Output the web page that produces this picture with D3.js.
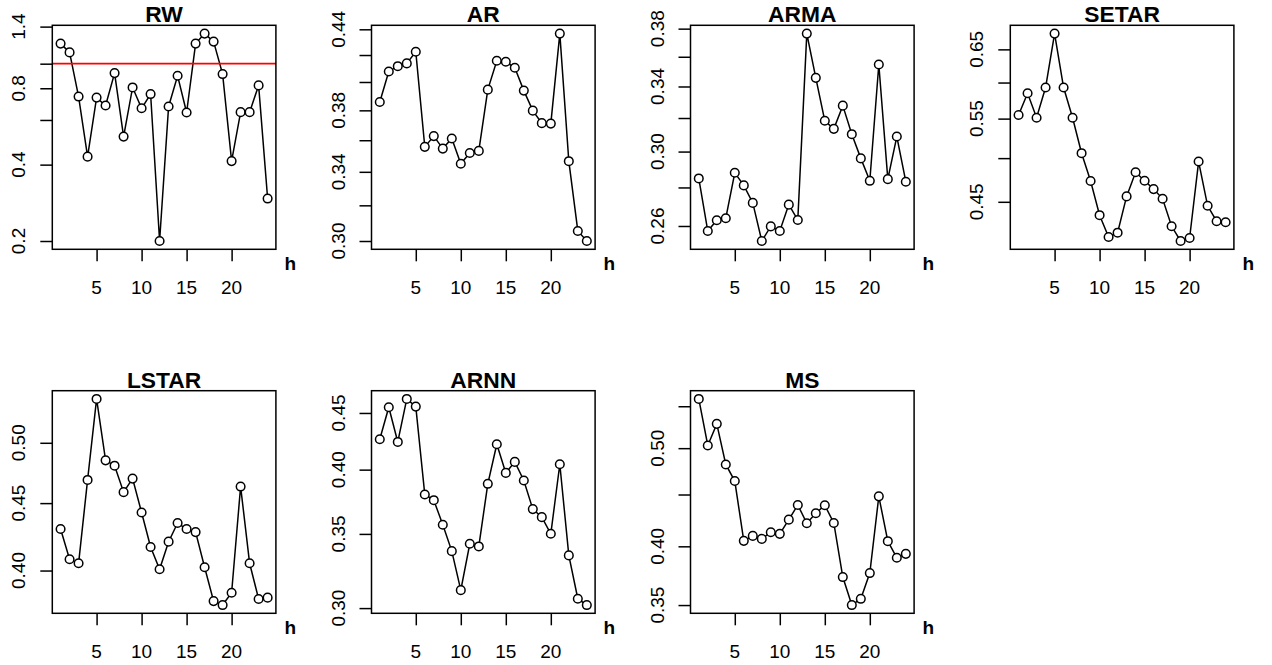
<!DOCTYPE html>
<html>
<head>
<meta charset="utf-8">
<script src="https://cdnjs.cloudflare.com/ajax/libs/d3/7.8.5/d3.min.js"></script>
<style>
  body { margin: 0; background: #ffffff; }
  text { font-family: "Liberation Sans", Arial, sans-serif; fill: #000000; }
</style>
</head>
<body>
<div id="chart"></div>
<script>
// horizons 1..24
var horizons = d3.range(1, 25)
var xTicks = [5, 10, 15, 20]

var models = ['RW', 'AR', 'ARMA', 'SETAR', 'LSTAR', 'ARNN', 'MS']

var rw = [1.20, 1.108, 0.742, 0.430, 0.735, 0.684, 0.918, 0.516, 0.806, 0.667, 0.759, 0.200,
  0.678, 0.896, 0.642, 1.20, 1.314, 1.222, 0.910, 0.413, 0.644, 0.644, 0.821, 0.294]
var ar = [0.3858, 0.4077, 0.4116, 0.4137, 0.4225, 0.3557, 0.3627, 0.3546, 0.3611, 0.3450, 0.3518, 0.3531,
  0.3945, 0.4157, 0.4149, 0.4104, 0.3938, 0.3798, 0.3713, 0.3710, 0.4366, 0.3466, 0.3055, 0.3000]
var arma = [0.2849, 0.2575, 0.2629, 0.2639, 0.2880, 0.2811, 0.2718, 0.2526, 0.2598, 0.2575, 0.2709, 0.2630,
  0.3764, 0.3457, 0.3183, 0.3134, 0.3277, 0.3102, 0.2961, 0.2836, 0.3547, 0.2845, 0.3088, 0.2831]
var setar = [0.5548, 0.5847, 0.5512, 0.5928, 0.6752, 0.5928, 0.5512, 0.5060, 0.4731, 0.4357, 0.4134, 0.4177,
  0.4559, 0.4832, 0.4735, 0.4640, 0.4533, 0.4242, 0.4094, 0.4124, 0.4959, 0.4457, 0.4294, 0.4283]
var lstar = [0.4301, 0.4080, 0.4051, 0.4686, 0.5398, 0.4849, 0.4804, 0.4587, 0.4697, 0.4427, 0.4168, 0.4009,
  0.4207, 0.4346, 0.4301, 0.4278, 0.4023, 0.3792, 0.3766, 0.3848, 0.4632, 0.4051, 0.3806, 0.3815]
var arnn = [0.4261, 0.4554, 0.4237, 0.4633, 0.4560, 0.3799, 0.3754, 0.3567, 0.3377, 0.3114, 0.3429, 0.3410,
  0.3884, 0.4217, 0.3973, 0.4065, 0.3911, 0.3685, 0.3624, 0.3501, 0.4045, 0.3347, 0.3059, 0.3019]
var ms = [0.5592, 0.5031, 0.5284, 0.4818, 0.4640, 0.4050, 0.4096, 0.4068, 0.4130, 0.4115, 0.4250, 0.4394,
  0.4215, 0.4312, 0.4391, 0.4218, 0.3730, 0.3500, 0.3550, 0.3764, 0.4481, 0.4047, 0.3897, 0.3932]

var series = [rw, ar, arma, setar, lstar, arnn, ms]

// y ticks per panel, and the ones that get a label
var yTicks = [
  [0.2, 0.4, 0.6, 0.8, 1.0, 1.4],
  [0.30, 0.32, 0.34, 0.36, 0.38, 0.40, 0.42, 0.44],
  [0.26, 0.28, 0.30, 0.32, 0.34, 0.36, 0.38],
  [0.45, 0.50, 0.55, 0.60, 0.65],
  [0.40, 0.45, 0.50],
  [0.30, 0.35, 0.40, 0.45],
  [0.35, 0.40, 0.45, 0.50, 0.55]
]
var yLabels = [
  ['0.2', '0.4', '0.8', '1.4'],
  ['0.30', '0.34', '0.38', '0.44'],
  ['0.26', '0.30', '0.34', '0.38'],
  ['0.45', '0.55', '0.65'],
  ['0.40', '0.45', '0.50'],
  ['0.30', '0.35', '0.40', '0.45'],
  ['0.35', '0.40', '0.50']
]

var refLine = 1 // red reference line, RW panel only

var W = 1272, H = 665
var colLeft = [52.3, 371.5, 690.5, 1010.3]
var plotW = 223.6
var rowTop = [25.3, 390.7]
var rowH = [224, 222.6]

var svg = d3.select('#chart').append('svg')
  .attr('width', W)
  .attr('height', H)

function extendLog(vals) {
  // like R: 4% padding of the range, here in log space
  var lo = Math.log(d3.min(vals)), hi = Math.log(d3.max(vals))
  var pad = (hi - lo) * 0.04
  return [Math.exp(lo - pad), Math.exp(hi + pad)]
}

models.forEach(function (name, i) {
  var vals = series[i]
  var left = colLeft[i % 4]
  var top = rowTop[Math.floor(i / 4)]
  var h = rowH[Math.floor(i / 4)]

  var x = d3.scaleLinear()
    .domain([1 - 23 * 0.04, 24 + 23 * 0.04])
    .range([left, left + plotW])
  var y = d3.scaleLog()
    .domain(extendLog(vals))
    .range([top + h, top])

  var g = svg.append('g')

  // x axis
  var xa = g.append('g')
    .attr('transform', 'translate(0,' + (top + h) + ')')
    .call(d3.axisBottom(x).tickValues(xTicks).tickSize(12).tickFormat(''))
  xa.select('.domain').remove()
  xa.selectAll('line').attr('stroke', '#000').attr('stroke-width', 1.5)
  g.selectAll('.xlab')
    .data(xTicks)
    .enter().append('text')
    .attr('x', function (d) { return x(d) })
    .attr('y', top + h + 44.5)
    .attr('text-anchor', 'middle')
    .attr('font-size', 19)
    .text(function (d) { return d })

  // y axis
  var ya = g.append('g')
    .attr('transform', 'translate(' + left + ',0)')
    .call(d3.axisLeft(y).tickValues(yTicks[i]).tickSize(12).tickFormat(''))
  ya.select('.domain').remove()
  ya.selectAll('line').attr('stroke', '#000').attr('stroke-width', 1.5)
  g.selectAll('.ylab')
    .data(yLabels[i])
    .enter().append('text')
    .attr('transform', function (d) {
      return 'translate(' + (left - 27) + ',' + y(+d) + ') rotate(-90)'
    })
    .attr('text-anchor', 'middle')
    .attr('font-size', 19)
    .text(function (d) { return d })

  // series: line with open circles (type "b")
  var line = d3.line()
    .x(function (d, j) { return x(horizons[j]) })
    .y(function (d) { return y(d) })
  g.append('path')
    .datum(vals)
    .attr('d', line)
    .attr('fill', 'none')
    .attr('stroke', '#000')
    .attr('stroke-width', 1.5)
  g.selectAll('circle')
    .data(vals)
    .enter().append('circle')
    .attr('cx', function (d, j) { return x(horizons[j]) })
    .attr('cy', function (d) { return y(d) })
    .attr('r', 4.3)
    .attr('fill', '#fff')
    .attr('stroke', '#000')
    .attr('stroke-width', 1.5)

  if (i === 0) {
    g.append('line')
      .attr('x1', left)
      .attr('x2', left + plotW)
      .attr('y1', y(refLine))
      .attr('y2', y(refLine))
      .attr('stroke', '#ff0000')
      .attr('stroke-width', 1.8)
  }

  // box
  g.append('rect')
    .attr('x', left)
    .attr('y', top)
    .attr('width', plotW)
    .attr('height', h)
    .attr('fill', 'none')
    .attr('stroke', '#000')
    .attr('stroke-width', 1.5)

  g.append('text')
    .attr('x', left + plotW / 2)
    .attr('y', top - 3)
    .attr('text-anchor', 'middle')
    .attr('font-size', 22.8)
    .attr('font-weight', 'bold')
    .text(name)

  g.append('text')
    .attr('x', left + plotW + 8.5)
    .attr('y', top + h + 20.5)
    .attr('font-size', 19)
    .attr('font-weight', 'bold')
    .text('h')
})
</script>
</body>
</html>
